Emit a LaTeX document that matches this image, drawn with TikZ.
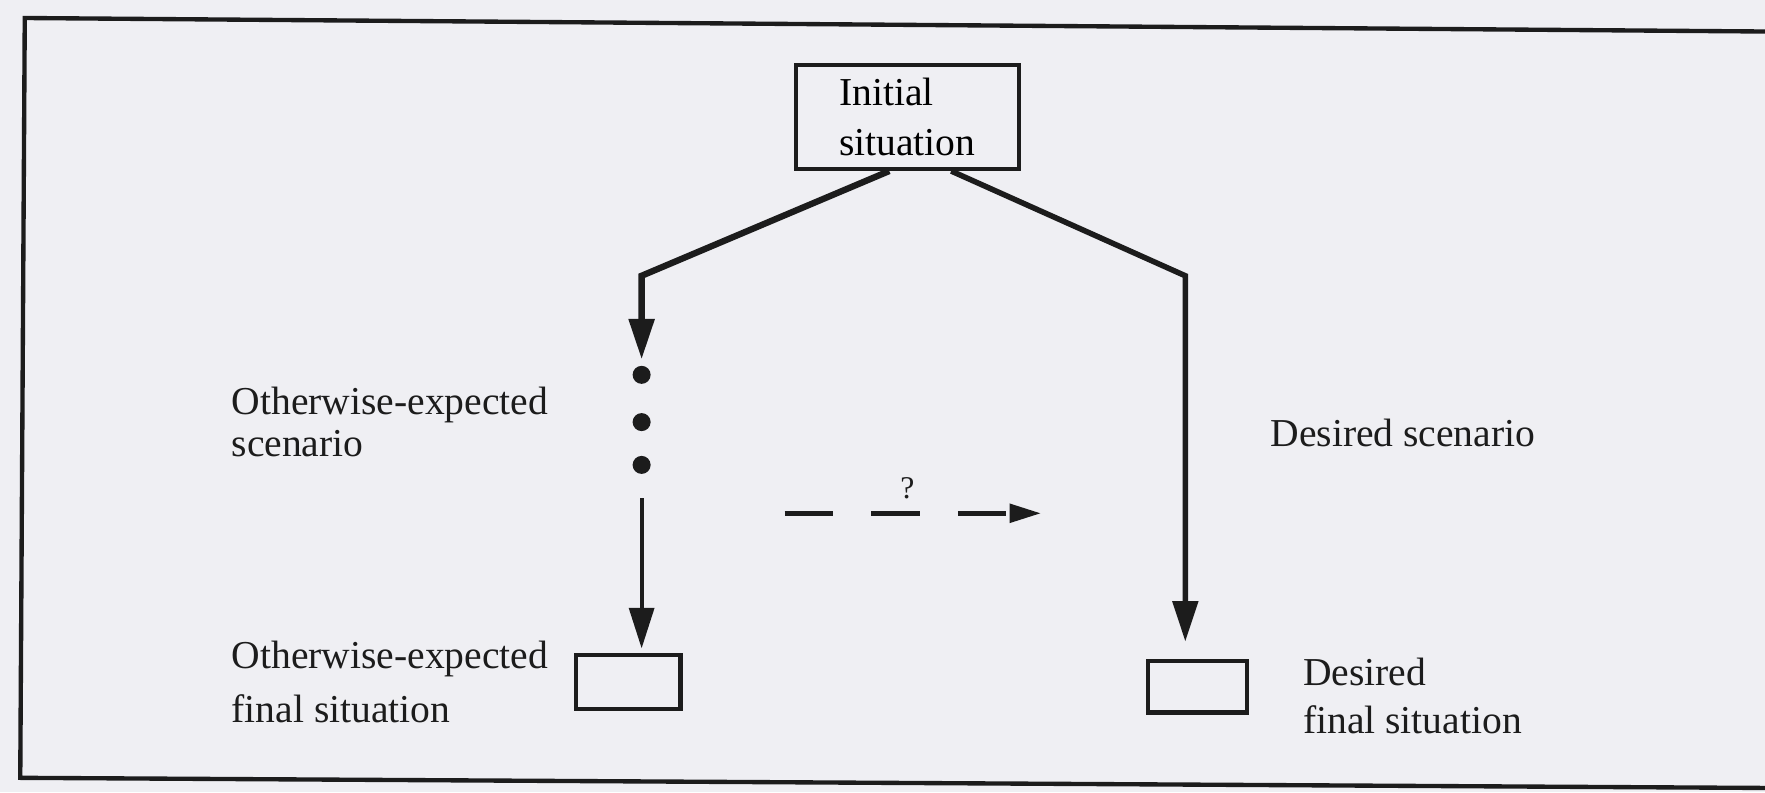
\documentclass[tikz,border=0pt]{standalone}
\usepackage{fontspec}
\setmainfont{Liberation Serif}
\usepackage{xcolor}
\usepackage{tikz}
\usetikzlibrary{arrows.meta}
\usetikzlibrary{positioning}
\definecolor{paper}{RGB}{239,239,243}
\definecolor{ink}{RGB}{28,28,28}

\begin{document}
\begin{tikzpicture}[
    font=\fontsize{10}{12}\selectfont,
    sitbox/.style={draw=ink,line width=1.1pt,inner sep=0pt},
    lbl/.style={align=left,inner sep=0pt,text=ink},
    dot/.style={circle,fill=ink,minimum size=1.6mm,inner sep=0pt},
    tip/.style={-{Triangle[length=3.6mm,width=2.2mm]}}
  ]
    \fill[paper] (0,0) rectangle (15.68,7.04);
    \useasboundingbox (0,0) rectangle (15.68,7.04);
    % frame, open on the right
    \draw[ink,line width=1.1pt] (15.68,6.76) -- (0.22,6.88) -- (0.18,0.13) -- (15.68,0.04);

    \node[sitbox,minimum width=1.98cm,minimum height=0.92cm,align=left,
      font=\fontsize{10}{12.8}\selectfont] (init) at (8.06,6.00) {Initial\\situation};
    \node[sitbox,minimum width=0.93cm,minimum height=0.48cm] (lfinal) at (5.58,0.98) {};
    \node[sitbox,minimum width=0.88cm,minimum height=0.46cm] (rfinal) at (10.64,0.94) {};
    \node[dot] (d1) at (5.70,3.71) {};
    \node[dot] (d2) at (5.70,3.29) {};
    \node[dot] (d3) at (5.70,2.91) {};
    \coordinate (lbend) at (5.70,4.59);
    \coordinate (rbend) at (10.53,4.59);

    \draw[ink,line width=1.6pt,tip,shorten >=0.5mm] ([xshift=-1.6mm]init.south) -- (lbend) -- (d1);
    \draw[ink,line width=1pt,tip,shorten <=2.1mm,shorten >=0.4mm] (d3) -- (d3 |- lfinal.north);
    \draw[ink,line width=1.4pt,tip,shorten >=1.5mm] ([xshift=3.9mm]init.south) -- (rbend) -- (rbend |- rfinal.north);

    % the question
    \coordinate (qa) at (6.97,2.48);
    \coordinate (qb) at (9.25,2.48);
    \draw[ink,line width=1.3pt,dash pattern=on 4.3mm off 3.4mm,
      -{Triangle[length=2.8mm,width=1.6mm]}] (qa) -- (qb);
    \node[text=ink,font=\fontsize{8}{8}\selectfont] (q) at (8.06,2.70) {?};

    \node[lbl,left=2.2mm of lfinal,font=\fontsize{10}{13.6}\selectfont] (lfinaltxt) {Otherwise-expected\\final situation};
    \node[lbl,anchor=west,font=\fontsize{10}{10.5}\selectfont] (lscentxt) at (lfinaltxt.west |- d2) {Otherwise-expected\\scenario};
    \node[lbl,right=4.7mm of rfinal,yshift=-0.8mm,font=\fontsize{10}{12.2}\selectfont] (rfinaltxt) {Desired\\final situation};
    \node[lbl,anchor=west] (rscentxt) at (11.28,3.19) {Desired scenario};
  \end{tikzpicture}
\end{document}
